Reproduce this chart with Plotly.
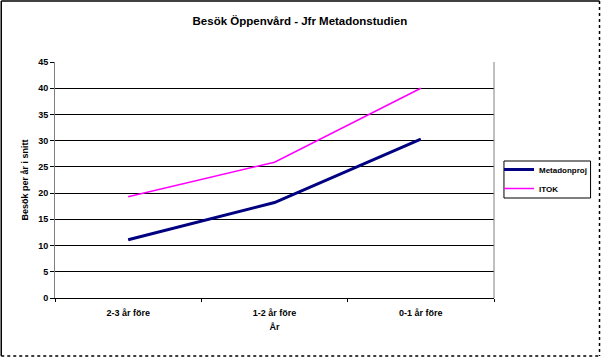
import plotly.graph_objects as go

categories = ["2-3 år före", "1-2 år före", "0-1 år före"]
metadonproj = [11.1, 18.2, 30.3]
itok = [19.3, 25.9, 40.0]
y_ticks = [0, 5, 10, 15, 20, 25, 30, 35, 40, 45]

FONT = "Liberation Sans, Arial, sans-serif"

fig = go.Figure()
fig.add_trace(go.Scatter(x=categories, y=metadonproj, mode="lines", name="<b>Metadonproj</b>",
                         line=dict(color="#000080", width=3)))
fig.add_trace(go.Scatter(x=categories, y=itok, mode="lines", name="<b>ITOK</b>",
                         line=dict(color="#FF00FF", width=1.5)))

W, H = 604, 358
L, R, T, B = 55, 496, 62, 298
pw, ph = R - L, B - T

def px(x):
    return (x - L) / pw

def py(y):
    return (B - y) / ph

fig.update_layout(
    width=W, height=H,
    margin=dict(l=L, r=W - R, t=T, b=H - B),
    paper_bgcolor="white", plot_bgcolor="white",
    font=dict(family=FONT, size=9, color="black"),
    title=dict(text="<b>Besök Öppenvård - Jfr Metadonstudien</b>", x=px(301), xanchor="center",
               xref="paper", y=1 - 21 / H, yanchor="middle", font=dict(size=11.5)),
    showlegend=True,
    legend=dict(x=px(501), y=py(155), xanchor="left", yanchor="top",
                borderwidth=0, bgcolor="rgba(0,0,0,0)",
                font=dict(size=8, family=FONT), tracegroupgap=0,
                itemwidth=30),
    xaxis=dict(
        type="category", range=[-0.5, 2.5], showgrid=False,
        showline=True, linecolor="black", linewidth=1,
        ticks="outside", tickson="boundaries", ticklen=3, tickcolor="black",
        tickfont=dict(size=9), ticklabelstandoff=6,
        tickvals=categories, ticktext=["<b>%s</b>" % c for c in categories],
        title=dict(text="<b>År</b>", font=dict(size=9), standoff=6),
        mirror=False,
    ),
    yaxis=dict(
        range=[0, 45], tickvals=y_ticks, ticktext=["<b>%d</b>" % v for v in y_ticks],
        showgrid=True, gridcolor="black", gridwidth=1,
        showline=True, linecolor="#808080", linewidth=1,
        ticks="outside", ticklen=4, tickcolor="black",
        tickfont=dict(size=9), zeroline=False,
        title=dict(text="<b>Besök per år i snitt</b>", font=dict(size=9), standoff=8),
    ),
    shapes=[
        dict(type="line", xref="paper", yref="paper", x0=1, x1=1, y0=0, y1=1,
             line=dict(color="#808080", width=1)),
        dict(type="rect", xref="paper", yref="paper", x0=px(506), x1=px(593), y0=py(161), y1=py(198),
             line=dict(color="black", width=1), fillcolor="rgba(0,0,0,0)", layer="below"),
        dict(type="line", xref="paper", yref="paper", x0=px(1), x1=px(602), y0=py(1), y1=py(1),
             line=dict(color="black", width=1.5)),
        dict(type="line", xref="paper", yref="paper", x0=px(1), x1=px(1), y0=py(1), y1=py(356),
             line=dict(color="black", width=1.5)),
        dict(type="line", xref="paper", yref="paper", x0=px(602), x1=px(602), y0=py(1), y1=py(356),
             line=dict(color="black", width=1.5, dash="dot")),
        dict(type="line", xref="paper", yref="paper", x0=px(1), x1=px(602), y0=py(356), y1=py(356),
             line=dict(color="black", width=1.5, dash="dot")),
    ],
)

fig.write_html("out.html")
